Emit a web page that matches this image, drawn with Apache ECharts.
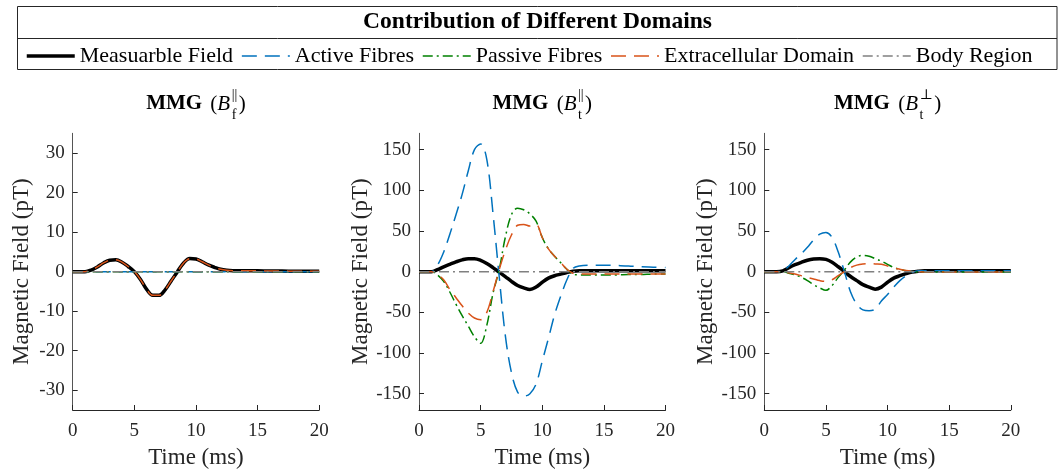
<!DOCTYPE html>
<html>
<head>
<meta charset="utf-8">
<script src="https://cdn.jsdelivr.net/npm/echarts@6/dist/echarts.min.js"></script>
<style>
  html, body { margin: 0; padding: 0; background: #ffffff; }
  #chart { width: 1058px; height: 474px; }
</style>
</head>
<body>
<div id="chart"></div>
<script>
// Sample times (ms), shared by every trace
const time = [0, 1, 1.5, 2, 2.5, 3, 3.5, 4, 4.5, 5, 5.5, 6, 6.5, 7, 7.5, 8, 8.5, 9, 9.5, 10,
              10.5, 11, 11.5, 12, 12.5, 13, 14, 15, 16, 17, 18, 19, 20];

// Legend / series names
const domainNames = ['Measuarble Field', 'Active Fibres', 'Passive Fibres', 'Extracellular Domain', 'Body Region'];

// Panel 1: B_f parallel (pT)
const fMeasurable    = [0, 0, 0.4, 1.2, 2.2, 2.9, 3.0, 2.4, 1.3, 0, -2.0, -4.5, -6.0, -6.0, -4.6, -2.3, 0, 2.2, 3.3, 3.2,
                        2.5, 1.7, 1.1, 0.6, 0.35, 0.25, 0.2, 0.2, 0.15, 0.15, 0.1, 0.1, 0.1];
const fActive        = [0, 0, 0, 0, 0, 0, 0, 0, 0, 0, 0, 0, 0, 0, 0, 0, 0, 0, 0, 0,
                        0, 0, 0, 0, 0, 0, 0, 0, 0, 0, 0, 0, 0];
const fPassive       = [0, 0, 0, 0, 0, 0, 0, 0, 0, 0, 0, 0, 0, 0, 0, 0, 0, 0, 0, 0,
                        0, 0, 0, 0, 0, 0, 0, 0, 0, 0, 0, 0, 0];
const fExtracellular = [0, 0, 0.4, 1.2, 2.2, 2.9, 3.0, 2.4, 1.3, 0, -2.0, -4.5, -6.0, -6.0, -4.6, -2.3, 0, 2.2, 3.3, 3.2,
                        2.5, 1.7, 1.1, 0.6, 0.35, 0.25, 0.2, 0.2, 0.15, 0.15, 0.1, 0.1, 0.1];

// Panel 2: B_t parallel (pT)
const tParMeasurable    = [0, 0, 2.5, 6, 9, 12, 14.5, 16, 16, 14, 10, 5, -0.5, -6, -12, -17, -20, -22, -19, -13,
                           -8, -5, -3, -1, 0.5, 1, 1, 1, 1, 1, 1, 1, 1];
const tParActive        = [0, 0, 8, 24, 46, 70, 95, 124, 150, 157, 138, 72, -5, -78, -124, -148, -153, -150, -138, -110,
                           -82, -53, -30, -10, 4, 7, 8, 8, 7.5, 7, 6, 5.5, 5];
const tParPassive       = [0, 0, -4, -12, -25, -40, -54, -67, -80, -88, -66, -27, 2, 42, 70, 78, 76, 71, 62, 42,
                           28, 19, 11, 3, -3, -4, -4, -4, -4, -3.5, -3.5, -3, -3];
const tParExtracellular = [0, 0, -4, -10, -22, -32, -42, -51, -57, -59, -50, -25, 2, 26, 45, 57, 58, 56, 58, 42,
                           28, 19, 11, 3, -2, -3, -3, -3, -3, -3, -3, -3, -3];

// Panel 3: B_t perpendicular (pT)
const tPerpMeasurable    = [0, 0, 1, 5, 8.5, 11.5, 14, 15.5, 16, 15, 11.5, 6, 0, -6, -11, -16, -19, -21.5, -19, -13,
                            -8, -5, -2.5, -0.5, 0.5, 1, 1, 1, 1, 1, 1, 1, 1];
const tPerpActive        = [0, 0, 1, 7, 15, 22, 30, 39, 46, 48, 42, 24, 0, -25, -40, -47, -48, -46, -36, -28,
                            -19, -11, -5, -1, 1, 1, 1, 1, 1, 1, 1, 1, 1];
const tPerpPassive       = [0, 0, 0, -2, -4, -7, -11, -16, -20, -23, -17, -7, 2, 12, 18, 20, 19, 16, 13, 9,
                            5, 3, 1, 0, -0.5, -0.5, -0.5, -0.5, -0.5, -0.5, -0.5, -0.5, -0.5];
const tPerpExtracellular = [0, 0, 0, -1.5, -3, -5, -7, -9, -11, -12, -10, -5, 0, 5, 8, 9.5, 10, 9.5, 9, 7,
                            4.5, 3, 1.5, 0.5, 0, -0.5, -0.5, -0.5, -0.5, -0.5, -0.5, -0.5, -0.5];

// Body region contributes nothing in any component
const bodyRegion = [0, 0, 0, 0, 0, 0, 0, 0, 0, 0, 0, 0, 0, 0, 0, 0, 0, 0, 0, 0,
                    0, 0, 0, 0, 0, 0, 0, 0, 0, 0, 0, 0, 0];

// Axis ticks
const xTicks = [0, 5, 10, 15, 20];
const yTicksSmall = [-30, -20, -10, 0, 10, 20, 30];
const yTicksLarge = [-150, -100, -50, 0, 50, 100, 150];

const panels = [
  { sup: '||', sub: 'f', yLim: 35,  yTicks: yTicksSmall,
    traces: [fMeasurable, fActive, fPassive, fExtracellular, bodyRegion] },
  { sup: '||', sub: 't', yLim: 170, yTicks: yTicksLarge,
    traces: [tParMeasurable, tParActive, tParPassive, tParExtracellular, bodyRegion] },
  { sup: '\u22A5', sub: 't', yLim: 170, yTicks: yTicksLarge,
    traces: [tPerpMeasurable, tPerpActive, tPerpPassive, tPerpExtracellular, bodyRegion] }
];

const FONT = '"Liberation Serif", "DejaVu Serif", serif';
const INK = '#262626';
const lineStyles = [
  { color: '#000000', width: 3.5, type: 'solid' },
  { color: '#0072BD', width: 1.5, type: [15, 8] },
  { color: '#008000', width: 1.5, type: [10, 4, 2, 4] },
  { color: '#D95319', width: 1.5, type: [15, 8] },
  { color: '#808080', width: 1.5, type: [10, 4, 2, 4] }
];

const plotLefts = [72.7, 419, 764.3];
const plotTop = 133.3, plotW = 246.5, plotH = 277.4;

const grids = [], xAxes = [], yAxes = [], series = [];
panels.forEach((p, i) => {
  grids.push({ left: plotLefts[i], top: plotTop, width: plotW, height: plotH, containLabel: false });
  xAxes.push({
    gridIndex: i, type: 'value', min: 0, max: 20, interval: 5,
    name: 'Time (ms)', nameLocation: 'middle', nameGap: 36,
    nameTextStyle: { fontFamily: FONT, fontSize: 23, color: INK },
    axisLine: { show: true, onZero: false, lineStyle: { color: INK, width: 1 } },
    axisTick: { show: true, inside: true, length: 5, customValues: xTicks, lineStyle: { color: INK } },
    axisLabel: { fontFamily: FONT, fontSize: 19, color: INK, margin: 12, customValues: xTicks },
    splitLine: { show: false }
  });
  yAxes.push({
    gridIndex: i, type: 'value', min: -p.yLim, max: p.yLim,
    name: 'Magnetic Field (pT)', nameLocation: 'middle', nameGap: 39,
    nameTextStyle: { fontFamily: FONT, fontSize: 23, color: INK },
    axisLine: { show: true, onZero: false, lineStyle: { color: '#555555', width: 1 } },
    axisTick: { show: true, inside: true, length: 5, customValues: p.yTicks, lineStyle: { color: INK } },
    axisLabel: { fontFamily: FONT, fontSize: 19, color: INK, margin: 8, customValues: p.yTicks },
    splitLine: { show: false }
  });
  p.traces.forEach((vals, k) => {
    series.push({
      name: domainNames[k], type: 'line', xAxisIndex: i, yAxisIndex: i,
      data: time.map((t, j) => [t, vals[j]]),
      showSymbol: false, symbol: 'none', smooth: 0.35, clip: true,
      lineStyle: lineStyles[k], itemStyle: { color: lineStyles[k].color },
      emphasis: { disabled: true }, animation: false, z: 2 + k
    });
  });
});

// Text width helper for the math-style panel titles
const measureCtx = document.createElement('canvas').getContext('2d');
function textWidth(str, font) { measureCtx.font = font; return measureCtx.measureText(str).width; }

function panelTitle(cx, cy, sup, sub) {
  const big = 21, small = 14;
  const fBold = 'bold ' + big + 'px ' + FONT;
  const fReg = big + 'px ' + FONT;
  const fIt = 'italic ' + big + 'px ' + FONT;
  const fSmall = small + 'px ' + FONT;
  const pieces = [
    { text: 'MMG', font: fBold, after: 3 },
    { text: ' (', font: fReg },
    { text: 'B', font: fIt, after: 1.5 }
  ];
  const supW = textWidth(sup, fSmall), subW = textWidth(sub, fSmall);
  const scriptW = Math.max(supW, subW);
  let total = 0;
  pieces.forEach(pc => { pc.w = textWidth(pc.text, pc.font); total += pc.w + (pc.after || 0); });
  const closeW = textWidth(')', fReg);
  total += scriptW + 1.5 + closeW;
  let x = cx - total / 2;
  const els = [];
  pieces.forEach(pc => {
    els.push({ type: 'text', left: x, top: cy - big / 2 - 1,
      style: { text: pc.text, font: pc.font, fill: '#000000' } });
    x += pc.w + (pc.after || 0);
  });
  els.push({ type: 'text', left: x, top: cy - 17,
    style: { text: sup, font: fSmall, fill: '#000000' } });
  els.push({ type: 'text', left: x, top: cy + 3,
    style: { text: sub, font: fSmall, fill: '#000000' } });
  x += scriptW + 1.5;
  els.push({ type: 'text', left: x, top: cy - big / 2 - 1,
    style: { text: ')', font: fReg, fill: '#000000' } });
  return els;
}

const graphics = [
  // legend frame with a header row
  { type: 'rect', shape: { x: 17.5, y: 6.5, width: 1039.5, height: 63 }, z: -1,
    style: { fill: '#ffffff', stroke: INK, lineWidth: 1 } },
  { type: 'line', shape: { x1: 17.5, y1: 38.5, x2: 1057, y2: 38.5 },
    style: { stroke: INK, lineWidth: 1 } },
  { type: 'text', x: 537.5, y: 22,
    style: { text: 'Contribution of Different Domains', font: 'bold 23.5px ' + FONT, fill: '#000000',
             align: 'center', verticalAlign: 'middle' } }
];
panels.forEach((p, i) => {
  graphics.push(...panelTitle(plotLefts[i] + plotW / 2, 105, p.sup, p.sub));
});

// Legend entries carry their own line styles so the icons match the traces
const legendData = domainNames.map((n, k) => ({
  name: n,
  lineStyle: { color: lineStyles[k].color, width: lineStyles[k].width, type: lineStyles[k].type }
}));

const chart = echarts.init(document.getElementById('chart'), null, { renderer: 'canvas' });
chart.setOption({
  animation: false,
  backgroundColor: '#ffffff',
  textStyle: { fontFamily: FONT },
  legend: {
    data: legendData, left: 25, top: 45, itemWidth: 48, itemHeight: 22, itemGap: 8,
    selectedMode: false, padding: 0,
    itemStyle: { opacity: 0 },
    textStyle: { fontFamily: FONT, fontSize: 22, color: '#000000' }
  },
  grid: grids,
  xAxis: xAxes,
  yAxis: yAxes,
  series: series,
  graphic: graphics
});
</script>
</body>
</html>
